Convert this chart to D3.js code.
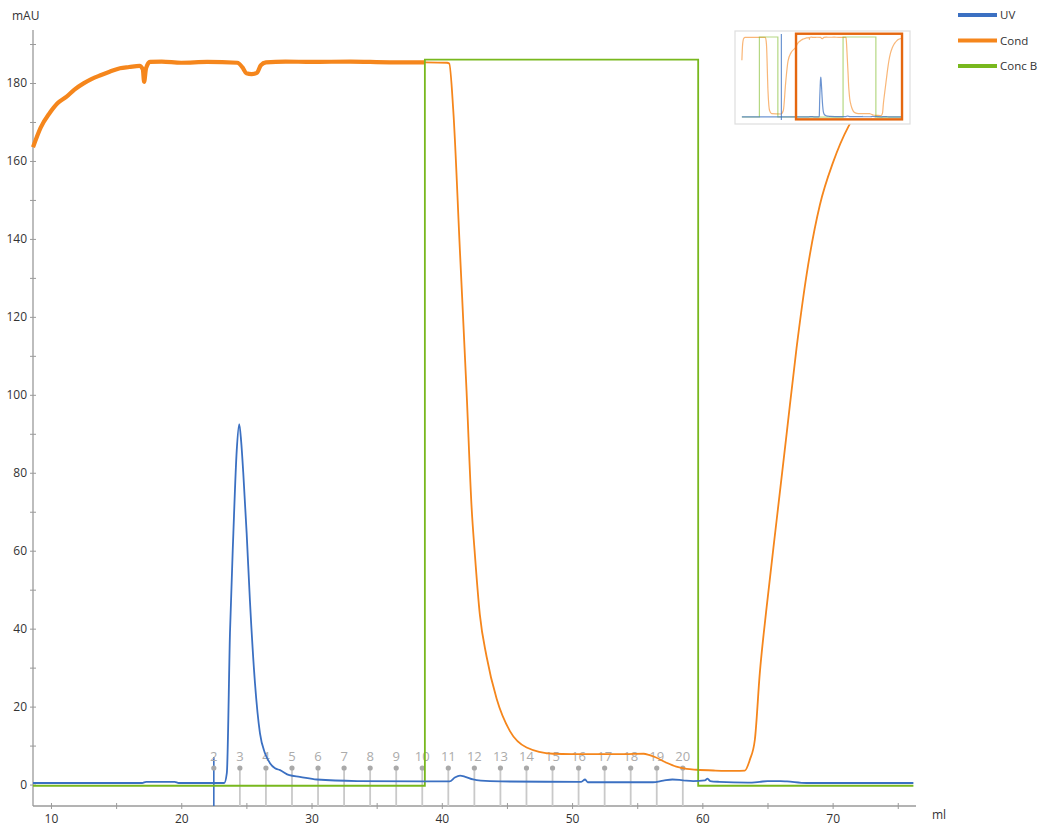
<!DOCTYPE html>
<html>
<head>
<meta charset="utf-8">
<script src="https://cdn.jsdelivr.net/npm/d3@7"></script>
<style>
  html, body { margin: 0; padding: 0; background: #fff; }
  svg { display: block; font-family: "Open Sans", "Noto Sans", sans-serif; }
</style>
</head>
<body>
<svg id="chart" width="1041" height="829"></svg>
<script>
// ---------- DATA ----------
// Cond trace [ml, value]
const condData = [
  [8.62,163.5],[9.2,168.5],[9.9,172.3],[10.5,174.8],[11.2,176.5],[11.8,178.3],[12.5,179.9],
  [13.1,181.0],[13.8,182.0],[14.5,182.9],[15.3,183.8],[16.0,184.1],[16.8,184.4],[17.05,183.5],
  [17.15,180.3],[17.3,183.8],[17.6,185.4],[18.5,185.5],[20,185.2],[22,185.4],[24.3,185.2],
  [24.7,184.0],[25.0,182.5],[25.4,182.3],[25.8,182.6],[26.1,184.5],[26.5,185.3],[28,185.5],
  [30,185.4],[33,185.5],[36,185.3],[38.7,185.3],[40.4,185.2],[40.57,185.0],[40.88,173],
  [41.39,137],[41.90,101],[42.29,71],[42.54,59],[42.92,43.6],[43.44,32.8],[44.21,22],
  [45.23,13.7],[46.51,9.5],[48.53,7.9],[50,7.8],[52,7.8],[54,7.8],[55.5,7.9],[55.9,7.6],
  [56.4,7.0],[57.25,5.6],[58,4.6],[58.8,4.0],[59.55,3.8],[61,3.6],[62.5,3.5],[63.26,3.6],
  [63.65,6.4],[64.03,11.5],[64.41,28.6],[64.93,45.4],[65.69,67.5],[66.46,89.7],[67.23,112],
  [68,130.8],[69.02,148.7],[70.04,159.7],[71.19,168.7],[72,173],[73,177],[74,180],[75.7,182.5]
];
// UV trace
const uvData = [
  [8.62,0.4],[17,0.4],[17.3,0.7],[19.5,0.7],[19.8,0.4],[23.3,0.4],[23.5,3],[23.74,38.9],
  [24.0,64.5],[24.26,85.8],[24.45,92.5],[24.6,88],[24.76,80],[25.02,64.5],[25.27,47.3],
  [25.66,26],[26.04,13.2],[26.42,8.1],[26.81,5.5],[27.2,4.2],[27.58,3.7],[28.3,2.4],[29.1,2.0],
  [30.4,1.3],[33.5,0.9],[38.5,0.8],[40.6,0.8],[41.0,1.8],[41.4,2.3],[41.8,2.0],[42.4,1.3],
  [43,1.0],[44.5,0.8],[50.7,0.7],[51.0,1.3],[51.2,0.6],[56.2,0.6],[57,1.0],[57.7,1.3],[58.5,1.1],
  [59.3,0.9],[60.2,1.1],[60.4,1.5],[60.6,0.9],[61.3,0.7],[63.5,0.5],[64.4,0.7],[65,0.9],[66,0.9],
  [66.5,0.8],[68,0.4],[76.2,0.4]
];
// Conc B trace
const concBData = [[8.62,-0.3],[38.7,-0.3],[38.7,186],[59.68,186],[59.68,-0.3],[76.2,-0.3]];

// Fractions
const fractionMl = [22.5,24.5,26.5,28.5,30.5,32.5,34.5,36.5,38.5,40.5,42.5,44.5,46.5,48.5,50.5,52.5,54.5,56.5,58.5];
const fractionLabels = ["2","3","4","5","6","7","8","9","10","11","12","13","14","15","16","17","18","19","20"];
const injectionMl = [22.5];

// Overview (inset) – part of the run before the main view
const preCondData = [[-26,132],[-25.5,170],[-24.8,183],[-24,185],[-11,185],[-10.3,170],[-9.3,60],[-8.3,15],
  [-7,8],[-1,7],[0.5,15],[2,80],[3.5,130],[5.5,150],[8.62,163.5]];
const preConcBData = [[-26,0],[-14.8,0],[-14.8,186],[-3,186],[-3,0],[8.62,0]];
const preUvData = [[-26,0.4],[8.62,0.4]];
const insetInjectionMl = [-0.75];

// Axis ticks
const xTicks = [10,15,20,25,30,35,40,45,50,55,60,65,70,75];
const xTickLabels = ["10","","20","","30","","40","","50","","60","","70",""];
const yTicks = [0,10,20,30,40,50,60,70,80,90,100,110,120,130,140,150,160,170,180,190];
const yTickLabels = ["0","","20","","40","","60","","80","","100","","120","","140","","160","","180",""];

const seriesNames = ["UV","Cond","Conc B"];
const seriesColors = ["#3b70c2","#f5861c","#78b81e"];

// ---------- DRAW ----------
const svg = d3.select("#chart");
const x = d3.scaleLinear().domain([8.62, 76.4]).range([33, 916]);
const y = d3.scaleLinear().domain([-5.5, 193.6]).range([806, 30]);

const axisColor = "#9a9a9a";
// Y axis
const yAxis = d3.axisLeft(y).tickValues(yTicks).tickSize(3)
  .tickFormat((d,i) => yTickLabels[i]);
const gy = svg.append("g").attr("transform","translate(33,0)").call(yAxis);
gy.select(".domain").attr("stroke", axisColor).attr("stroke-width",1.3);
gy.selectAll(".tick line").attr("stroke", axisColor).attr("x2", 3).attr("x1",-3);
gy.selectAll(".tick text").attr("x",-6).attr("fill","#333").style("font-size","12px").style("font-family","'Open Sans', sans-serif");

// X axis
const xAxis = d3.axisBottom(x).tickValues(xTicks).tickSize(3)
  .tickFormat((d,i) => xTickLabels[i]);
const gx = svg.append("g").attr("transform","translate(0,806)").call(xAxis);
gx.select(".domain").attr("stroke", axisColor).attr("stroke-width",1.3);
gx.selectAll(".tick line").attr("stroke", axisColor).attr("y1",-3).attr("y2",3);
gx.selectAll(".tick text").attr("y",8).attr("fill","#333").style("font-size","12px").style("font-family","'Open Sans', sans-serif");
gy.select(".domain").attr("d", `M0,${y.range()[1]}V${y.range()[0]}`);
gx.select(".domain").attr("d", `M${x.range()[0]},0H${x.range()[1]}`);

svg.append("text").attr("x",12).attr("y",20).text("mAU")
  .attr("fill","#333").style("font-size","12px");
svg.append("text").attr("x",932).attr("y",819).text("ml")
  .attr("fill","#333").style("font-size","12px");

// Fractions
const fracTop = 768;
const fg = svg.append("g");
fg.selectAll("line.frac").data(fractionMl.filter(d => !injectionMl.includes(d))).enter().append("line")
  .attr("class","frac")
  .attr("x1", d => x(d)).attr("x2", d => x(d))
  .attr("y1", fracTop).attr("y2", 806)
  .attr("stroke", "#c9c9c9").attr("stroke-width", 1.8);
fg.selectAll("line.inj").data(injectionMl).enter().append("line").attr("class","inj")
  .attr("x1", d => x(d)).attr("x2", d => x(d))
  .attr("y1", 757).attr("y2", 806)
  .attr("stroke", seriesColors[0]).attr("stroke-width",1.6);
fg.selectAll("circle").data(fractionMl).enter().append("circle")
  .attr("cx", d => x(d)).attr("cy", fracTop).attr("r", 2.6).attr("fill","#a9a9a9");
fg.selectAll("text").data(fractionMl).enter().append("text")
  .attr("x", d => x(d)).attr("y", 761).attr("text-anchor","middle")
  .attr("fill","#ababab").style("font-size","13px")
  .text((d,i) => fractionLabels[i]);

const line = d3.line().x(d => x(d[0])).y(d => y(d[1]));
const smooth = d3.line().x(d => x(d[0])).y(d => y(d[1])).curve(d3.curveMonotoneX);
// Cond: noisy part (thick band) then smooth part
svg.append("path").datum(condData.filter(d => d[0] <= 38.7))
  .attr("d", smooth).attr("fill","none").attr("stroke", seriesColors[1])
  .attr("stroke-width", 4.2).attr("stroke-linejoin","round");
svg.append("path").datum(condData.filter(d => d[0] >= 38.7))
  .attr("d", smooth).attr("fill","none").attr("stroke", seriesColors[1])
  .attr("stroke-width", 1.8).attr("stroke-linejoin","round");
// Conc B
svg.append("path").datum(concBData).attr("d", line).attr("fill","none")
  .attr("stroke", seriesColors[2]).attr("stroke-width", 1.8);
// UV
svg.append("path").datum(uvData).attr("d", smooth).attr("fill","none")
  .attr("stroke", seriesColors[0]).attr("stroke-width", 1.8).attr("stroke-linejoin","round");

// Legend
const lg = svg.append("g");
seriesNames.forEach((n,i) => {
  const yy = 15 + i*25.5;
  lg.append("line").attr("x1",958).attr("x2",997).attr("y1",yy).attr("y2",yy)
    .attr("stroke", seriesColors[i]).attr("stroke-width",4);
  lg.append("text").attr("x",1000).attr("y",yy+4).text(n)
    .attr("fill","#333").style("font-size","11.5px");
});

// Inset overview
const ix = d3.scaleLinear().domain([-30.4, 81.5]).range([735, 910]);
const iy = d3.scaleLinear().domain([0, 186]).range([117, 37]);
const ig = svg.append("g");
ig.append("rect").attr("x",735).attr("y",31).attr("width",175).attr("height",93)
  .attr("fill","#fff").attr("stroke","#dedede").attr("stroke-width",1.2);
const iline = d3.line().x(d => ix(d[0])).y(d => iy(d[1]));
const ismooth = d3.line().x(d => ix(d[0])).y(d => iy(d[1])).curve(d3.curveMonotoneX);
ig.append("path").datum(preCondData.concat(condData.slice(1))).attr("d", ismooth)
  .attr("fill","none").attr("stroke", seriesColors[1]).attr("stroke-opacity",0.6).attr("stroke-width",1.2);
ig.append("path").datum(preConcBData.concat(concBData.slice(1))).attr("d", iline)
  .attr("fill","none").attr("stroke", seriesColors[2]).attr("stroke-opacity",0.55).attr("stroke-width",1.2);
ig.append("path").datum(preUvData.concat(uvData.slice(1))).attr("d", ismooth)
  .attr("fill","none").attr("stroke", seriesColors[0]).attr("stroke-opacity",0.75).attr("stroke-width",1.2);
ig.selectAll("line.inj").data(insetInjectionMl).enter().append("line")
  .attr("x1", d => ix(d)).attr("x2", d => ix(d)).attr("y1", 34).attr("y2", 120)
  .attr("stroke", seriesColors[0]).attr("stroke-opacity",0.75).attr("stroke-width",1.2);
// viewport rectangle = main chart domain
ig.append("rect")
  .attr("x", ix(x.domain()[0])).attr("y", iy(y.domain()[1]))
  .attr("width", ix(x.domain()[1]) - ix(x.domain()[0]))
  .attr("height", iy(y.domain()[0]) - iy(y.domain()[1]))
  .attr("fill","none").attr("stroke","#e5670f").attr("stroke-width",2.4);
</script>
</body>
</html>
